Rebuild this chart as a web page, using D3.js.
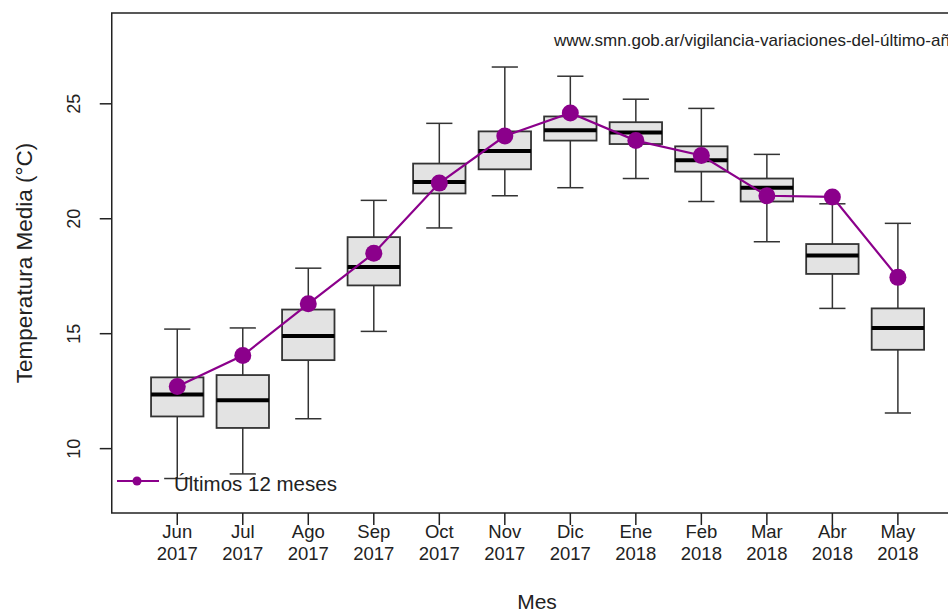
<!DOCTYPE html>
<html>
<head>
<meta charset="utf-8">
<script src="https://cdn.jsdelivr.net/npm/d3@7"></script>
<style>
  body { margin: 0; background: #fff; }
  svg { display: block; font-family: "Liberation Sans", Arial, sans-serif; }
</style>
</head>
<body>
<svg id="chart" width="948" height="611"></svg>
<script>
// monthly climatology boxplots + last 12 months
const months = ['Jun', 'Jul', 'Ago', 'Sep', 'Oct', 'Nov', 'Dic', 'Ene', 'Feb', 'Mar', 'Abr', 'May']
const years = ['2017', '2017', '2017', '2017', '2017', '2017', '2017', '2018', '2018', '2018', '2018', '2018']
const whiskerLow = [8.7, 8.9, 11.3, 15.1, 19.6, 21.0, 21.35, 21.75, 20.75, 19.0, 16.1, 11.55]
const q1 = [11.4, 10.9, 13.85, 17.1, 21.1, 22.15, 23.4, 23.25, 22.05, 20.75, 17.6, 14.3]
const median = [12.35, 12.1, 14.9, 17.9, 21.6, 22.95, 23.85, 23.75, 22.55, 21.35, 18.4, 15.25]
const q3 = [13.1, 13.2, 16.05, 19.2, 22.4, 23.8, 24.45, 24.2, 23.15, 21.75, 18.9, 16.1]
const whiskerHigh = [15.2, 15.25, 17.85, 20.8, 24.15, 26.6, 26.2, 25.2, 24.8, 22.8, 20.65, 19.8]
const ultimos = [12.7, 14.05, 16.3, 18.5, 21.55, 23.6, 24.6, 23.4, 22.75, 21.0, 20.95, 17.45]
const yTicks = [10, 15, 20, 25]

const svg = d3.select('#chart')
const x = d3.scaleLinear().domain([0, 13]).range([111.75, 963.4])
const y = d3.scaleLinear().domain([7.2, 28.95]).range([513, 13])
const ink = '#222'
const purple = '#8b008b'

const data = months.map(function (m, i) {
  return { i: i + 1, lo: whiskerLow[i], q1: q1[i], med: median[i], q3: q3[i], hi: whiskerHigh[i], last: ultimos[i] }
})

// frame
svg.append('rect')
  .attr('x', x(0)).attr('y', y.range()[1])
  .attr('width', x(13) - x(0)).attr('height', y.range()[0] - y.range()[1])
  .attr('fill', 'none').attr('stroke', ink).attr('stroke-width', 1.5)

// boxes
const box = svg.append('g').selectAll('g').data(data).enter().append('g')
box.append('line')
  .attr('x1', d => x(d.i)).attr('x2', d => x(d.i))
  .attr('y1', d => y(d.hi)).attr('y2', d => y(d.q3))
  .attr('stroke', '#333').attr('stroke-width', 1.5)
box.append('line')
  .attr('x1', d => x(d.i)).attr('x2', d => x(d.i))
  .attr('y1', d => y(d.q1)).attr('y2', d => y(d.lo))
  .attr('stroke', '#333').attr('stroke-width', 1.5)
box.selectAll('.cap').data(d => [[d.i, d.hi], [d.i, d.lo]]).enter().append('line')
  .attr('x1', d => x(d[0] - 0.2)).attr('x2', d => x(d[0] + 0.2))
  .attr('y1', d => y(d[1])).attr('y2', d => y(d[1]))
  .attr('stroke', '#333').attr('stroke-width', 1.5)
box.append('rect')
  .attr('x', d => x(d.i - 0.4)).attr('width', x(0.8) - x(0))
  .attr('y', d => y(d.q3)).attr('height', d => y(d.q1) - y(d.q3))
  .attr('fill', '#e3e3e3').attr('stroke', '#333').attr('stroke-width', 1.8)
box.append('line')
  .attr('x1', d => x(d.i - 0.4)).attr('x2', d => x(d.i + 0.4))
  .attr('y1', d => y(d.med)).attr('y2', d => y(d.med))
  .attr('stroke', '#000').attr('stroke-width', 4)

// last 12 months
svg.append('path').datum(data)
  .attr('fill', 'none').attr('stroke', purple).attr('stroke-width', 2.2)
  .attr('d', d3.line().x(d => x(d.i)).y(d => y(d.last)))
svg.append('g').selectAll('circle').data(data).enter().append('circle')
  .attr('cx', d => x(d.i)).attr('cy', d => y(d.last)).attr('r', 8.5)
  .attr('fill', purple)

// y axis
const yAxis = svg.append('g').attr('transform', 'translate(' + x(0) + ',0)')
yAxis.selectAll('line').data(yTicks).enter().append('line')
  .attr('x1', -12).attr('x2', 0)
  .attr('y1', d => y(d)).attr('y2', d => y(d))
  .attr('stroke', ink).attr('stroke-width', 1.5)
yAxis.selectAll('text').data(yTicks).enter().append('text')
  .attr('transform', d => 'translate(-32,' + y(d) + ') rotate(-90)')
  .attr('text-anchor', 'middle')
  .attr('font-size', 18).attr('fill', ink)
  .text(d => d)
svg.append('text')
  .attr('transform', 'translate(32,263) rotate(-90)')
  .attr('text-anchor', 'middle').attr('font-size', 22.5).attr('fill', ink)
  .text('Temperatura Media (°C)')

// x axis
const xAxis = svg.append('g').attr('transform', 'translate(0,' + y.range()[0] + ')')
xAxis.selectAll('line').data(data).enter().append('line')
  .attr('x1', d => x(d.i)).attr('x2', d => x(d.i))
  .attr('y1', 0).attr('y2', 12)
  .attr('stroke', ink).attr('stroke-width', 1.5)
const xl = xAxis.selectAll('text').data(data).enter().append('text')
  .attr('text-anchor', 'middle').attr('font-size', 18.5).attr('fill', ink)
xl.append('tspan').attr('x', d => x(d.i)).attr('y', 25).text((d, i) => months[i])
xl.append('tspan').attr('x', d => x(d.i)).attr('y', 47).text((d, i) => years[i])
svg.append('text')
  .attr('x', 537).attr('y', 609)
  .attr('text-anchor', 'middle').attr('font-size', 21).attr('fill', ink)
  .text('Mes')

// legend
const leg = svg.append('g')
leg.append('line').attr('x1', 117).attr('x2', 159).attr('y1', 481).attr('y2', 481)
  .attr('stroke', purple).attr('stroke-width', 2.2)
leg.append('circle').attr('cx', 137).attr('cy', 481).attr('r', 4.5).attr('fill', purple)
leg.append('text').attr('x', 174).attr('y', 491)
  .attr('font-size', 20.5).attr('fill', ink)
  .text('Últimos 12 meses')

// source
svg.append('text').attr('x', 554).attr('y', 46)
  .attr('font-size', 17).attr('fill', ink)
  .text('www.smn.gob.ar/vigilancia-variaciones-del-último-año')
</script>
</body>
</html>
